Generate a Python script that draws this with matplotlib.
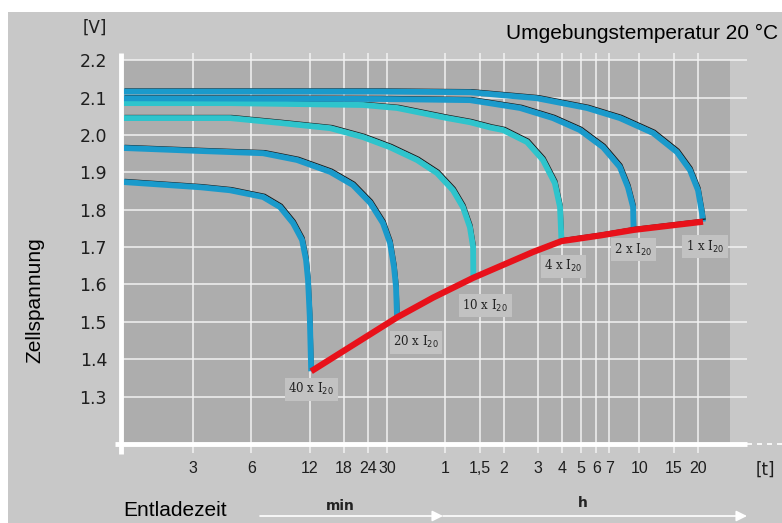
import numpy as np
import matplotlib
matplotlib.use('Agg')
import matplotlib.pyplot as plt
from matplotlib.transforms import offset_copy
from matplotlib.patches import Rectangle

# discharge curves, time in minutes, cell voltage in V
t_40 = [1.31, 3.27, 4.65, 6.89, 8.43, 9.84, 10.95, 11.48, 11.75, 12.0, 12.2]
u_40 = [1.874, 1.860, 1.852, 1.834, 1.807, 1.764, 1.719, 1.665, 1.612, 1.513, 1.368]

t_20 = [1.31, 3.27, 6.89, 10.3, 15.3, 20.0, 24.6, 28.6, 31.1, 32.6, 33.4, 33.8]
u_20 = [1.965, 1.957, 1.951, 1.933, 1.901, 1.866, 1.818, 1.764, 1.711, 1.647, 1.593, 1.512]

t_10 = [1.31, 4.65, 8.43, 15.3, 22.6, 31.1, 42.8, 54.3, 65.7, 73.9, 80.3, 83.4, 83.6]
u_10 = [2.045, 2.045, 2.032, 2.018, 1.994, 1.967, 1.933, 1.898, 1.852, 1.807, 1.753,
        1.700, 1.618]

t_4 = [1.31, 4.65, 22.6, 33.8, 61.2, 80.3, 101.8, 118.9, 158, 191, 220, 234, 238]
u_4 = [2.085, 2.085, 2.080, 2.072, 2.045, 2.034, 2.020, 2.013, 1.981, 1.933, 1.871,
       1.807, 1.718]

t_2 = [1.31, 27.6, 80.3, 145.5, 215, 296, 390, 476, 524, 557, 560]
u_2 = [2.098, 2.096, 2.093, 2.072, 2.045, 2.013, 1.967, 1.914, 1.860, 1.807, 1.747]

t_1 = [1.31, 27.6, 80.3, 178, 322, 476, 706, 938, 1094, 1204, 1262, 1277]
u_1 = [2.116, 2.116, 2.114, 2.098, 2.072, 2.045, 2.005, 1.954, 1.906, 1.852, 1.791,
       1.768]

# end-of-discharge voltage (red)
t_end = [12.2, 33.8, 51.9, 83.6, 170, 238, 376, 560, 1277]
u_end = [1.368, 1.512, 1.565, 1.618, 1.687, 1.716, 1.731, 1.746, 1.768]

curve_labels = ['40 x I$_{20}$', '20 x I$_{20}$', '10 x I$_{20}$',
                '4 x I$_{20}$', '2 x I$_{20}$', '1 x I$_{20}$']

x_ticks = [3, 6, 12, 18, 24, 30, 60, 90, 120, 180, 240, 300, 360, 420, 600, 900, 1200]
x_ticklabels = ['3', '6', '12', '18', '24', '30', '1', '1,5', '2', '3', '4', '5',
                '6', '7', '10', '15', '20']
y_ticks = [1.3, 1.4, 1.5, 1.6, 1.7, 1.8, 1.9, 2.0, 2.1, 2.2]

BLUE = '#1a9acb'
CYAN = '#2ec4cc'
RED = '#e8111a'
W, H = 782, 523

fig = plt.figure(figsize=(W / 100, H / 100), dpi=100)
fig.patch.set_facecolor('white')
fig.add_artist(Rectangle((8 / W, 0), 1, 1 - 12 / H, transform=fig.transFigure,
                         facecolor='#c8c8c8', edgecolor='none', zorder=-10))

ax = fig.add_axes([121 / W, (H - 444) / H, (747 - 121) / W, (444 - 53) / H])
ax.set_xscale('log')
ax.set_xlim(1.276, 2153)
ax.set_ylim(1.1735, 2.219)
ax.patch.set_alpha(0)

# darker plotting field
ax.fill_between([1.276, 1761], 1.1735, 2.2, color='#adadad', lw=0, zorder=0)

for s in ax.spines.values():
    s.set_visible(False)

# white grid
for x in x_ticks:
    ax.axvline(x, color='#f2f2f2', lw=1.1, zorder=1)
for y in y_ticks:
    ax.axhline(y, color='#f2f2f2', lw=1.1, zorder=1)

ax.set_xticks(x_ticks)
ax.set_xticklabels(x_ticklabels, family='Liberation Sans')
ax.xaxis.set_minor_locator(matplotlib.ticker.NullLocator())
ax.set_yticks(y_ticks)
ax.set_yticklabels([f'{v:.1f}' for v in y_ticks])
ax.tick_params(axis='x', length=6.5, width=1.1, color='#f2f2f2', pad=6,
               labelsize=11.5, labelcolor='#1e1e1e')
ax.tick_params(axis='y', length=0, pad=10, labelsize=12.5, labelcolor='#1e1e1e')

# white axis lines
ax.plot([0, 0], [-0.025, 1.0], transform=ax.transAxes, color='white', lw=3.5,
        clip_on=False, zorder=5, solid_capstyle='butt')
ax.plot([-0.01, 1.0], [0, 0], transform=ax.transAxes, color='white', lw=3.5,
        clip_on=False, zorder=5, solid_capstyle='butt')
fig.add_artist(plt.Line2D([747 / W, 782 / W], [(H - 444) / H] * 2, color='white',
                          lw=1.2, ls=(0, (3, 3))))

shade = offset_copy(ax.transData, fig=fig, x=2.0, y=2.6, units='dots')
series = [(t_40, u_40, BLUE), (t_20, u_20, BLUE), (t_10, u_10, CYAN),
          (t_4, u_4, CYAN), (t_2, u_2, BLUE), (t_1, u_1, BLUE)]
for t, u, c in series:
    ax.plot(t, u, color='#1a1a1a', lw=0.9, transform=shade, zorder=3)
    ax.plot(t, u, color=c, lw=4.2, zorder=4, solid_capstyle='butt',
            solid_joinstyle='round')

ax.plot(t_end, u_end, color='#1a1a1a', lw=0.9, transform=shade, zorder=5)
ax.plot(t_end, u_end, color=RED, lw=4.5, zorder=6, solid_capstyle='butt',
        solid_joinstyle='round')

offsets = [(0, -18), (19, -25), (12, -28), (2, -26), (0, -20), (2, -25)]
for (t, u, c), lab, off in zip(series, curve_labels, offsets):
    ax.annotate(lab, (t[-1], u[-1]), xytext=off, textcoords='offset pixels',
                ha='center', va='center', fontsize=8.5, family='DejaVu Serif',
                color='#222222', zorder=7,
                bbox=dict(boxstyle='square,pad=0.3', fc='#c2c2c2', ec='none'))

fig.text(95 / W, 1 - 28 / H, '[V]', ha='center', va='center', fontsize=12,
         color='#1e1e1e')
fig.text(765 / W, 1 - 470 / H, '[t]', ha='center', va='center', fontsize=12,
         color='#1e1e1e')
fig.text(778 / W, 1 - 33 / H, 'Umgebungstemperatur 20 °C', ha='right', va='center',
         fontsize=15, family='Liberation Sans', color='black')
fig.text(35 / W, 1 - 300 / H, 'Zellspannung', ha='center', va='center', rotation=90,
         fontsize=15, family='Liberation Sans', color='black')
fig.text(123 / W, 1 - 510 / H, 'Entladezeit', ha='left', va='center',
         fontsize=15, family='Liberation Sans', color='black')
fig.text(340 / W, 1 - 506 / H, 'min', ha='center', va='center', fontsize=10,
         weight='bold', color='#222222')
fig.text(583 / W, 1 - 503 / H, 'h', ha='center', va='center', fontsize=10,
         weight='bold', color='#222222')

for x0, x1 in [(260, 443), (443, 747)]:
    ax.annotate('', xy=(x1, H - 516), xytext=(x0, H - 516), xycoords='figure pixels',
                textcoords='figure pixels',
                arrowprops=dict(arrowstyle='-|>', color='white', lw=1.2,
                                mutation_scale=16, shrinkA=0, shrinkB=0))

fig.savefig('out.png', dpi=100)
